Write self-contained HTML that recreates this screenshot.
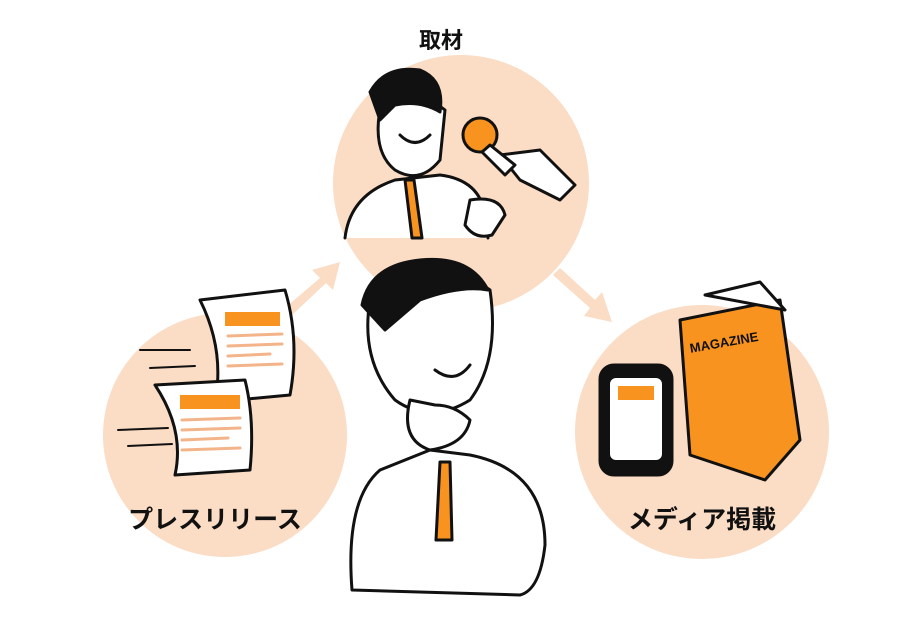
<!DOCTYPE html>
<html><head><meta charset="utf-8"><style>
html,body{margin:0;padding:0;background:#fff;}
svg{display:block}
text{font-family:"Liberation Sans","Noto Sans CJK JP",sans-serif;font-weight:bold;fill:#111}
</style></head><body>
<svg width="923" height="631" viewBox="0 0 923 631" xmlns="http://www.w3.org/2000/svg">
<g fill="#fbdcc5">
<circle cx="461" cy="183" r="128"/>
<circle cx="225" cy="435" r="122"/>
<circle cx="702" cy="432" r="127"/>
<path d="M285 308 L320 278 L312 270 L340 262 L333 290 L326 283 L292 315 Z"/>
<path d="M560 268 L595 300 L602 292 L612 322 L584 316 L590 308 L553 275 Z"/>
</g>
<text x="441" y="48" font-size="22" text-anchor="middle">取材</text>
<text x="215" y="528" font-size="25" text-anchor="middle">プレスリリース</text>
<text x="702" y="528" font-size="25" text-anchor="middle">メディア掲載</text>
<g stroke="#111" stroke-width="3" stroke-linecap="round" stroke-linejoin="round">
<path d="M345 238 Q350 195 395 180 L440 175 Q480 180 485 215 L488 238" fill="#fff"/>
<path d="M405 180 L412 238 L422 238 L414 180 Z" fill="#f7931e"/>
<path d="M382 100 Q370 150 395 170 Q420 185 440 160 L445 110 Q420 90 382 100Z" fill="#fff"/>
<path d="M370 92 Q385 65 420 70 Q445 80 440 112 Q420 100 395 105 L380 120 Z" fill="#111"/>
<path d="M400 135 Q415 150 430 135" fill="#fff"/>
<path d="M470 200 Q500 195 505 215 L492 235 Q475 240 465 225 Z" fill="#fff"/>
<path d="M500 155 L540 150 L575 185 L560 200 L520 180 Z" fill="#fff"/>
<circle cx="480" cy="135" r="17" fill="#f7931e"/>
<path d="M490 145 L515 165 L505 175 L482 152 Z" fill="#fff"/>
<path d="M352 590 Q345 500 380 470 L430 450 L470 455 Q545 470 545 545 Q540 590 520 595 Z" fill="#fff"/>
<path d="M440 462 L436 540 L452 540 L450 462 Z" fill="#f7931e"/>
<path d="M370 300 Q360 360 395 400 Q430 425 470 400 Q500 360 490 290 Q450 260 370 300Z" fill="#fff"/>
<path d="M362 305 Q370 265 420 260 Q470 255 488 290 Q460 285 420 300 L385 330 Z" fill="#111"/>
<path d="M435 370 Q455 385 470 365" fill="none"/>
<path d="M410 400 Q400 440 430 450 Q465 445 470 420 Q455 405 435 405 Z" fill="#fff"/>
<path d="M200 300 L285 290 Q300 340 290 395 L215 402 Q225 350 200 300Z" fill="#fff"/>
<rect x="225" y="312" width="55" height="14" fill="#f7931e" stroke="none"/>
<path d="M155 385 L245 380 Q255 420 250 470 L175 475 Q185 430 155 385Z" fill="#fff"/>
<rect x="180" y="395" width="60" height="14" fill="#f7931e" stroke="none"/>
<path d="M140 350 L190 350 M150 368 L195 366 M118 430 L168 428 M128 446 L172 444" fill="none" stroke-width="2"/>
<g stroke="#f4b48a" stroke-width="3" fill="none">
<path d="M228 336 L282 334 M228 346 L282 344 M228 356 L270 354 M228 366 L282 364"/>
<path d="M182 420 L240 418 M182 430 L240 428 M182 440 L228 438 M182 450 L240 448"/>
</g>
<path d="M680 320 L780 300 L800 440 L765 480 L690 455 Z" fill="#f7931e"/>
<path d="M705 295 L760 282 L785 310 Z" fill="#fff"/>
<rect x="600" y="365" width="72" height="110" rx="14" fill="#111"/>
<rect x="610" y="378" width="52" height="82" rx="6" fill="#fff" stroke="none"/>
<rect x="618" y="386" width="36" height="14" fill="#f7931e" stroke="none"/>
</g>
<text x="690" y="345" font-size="13" transform="rotate(-10 735 345)">MAGAZINE</text>
</svg>
</body></html>
